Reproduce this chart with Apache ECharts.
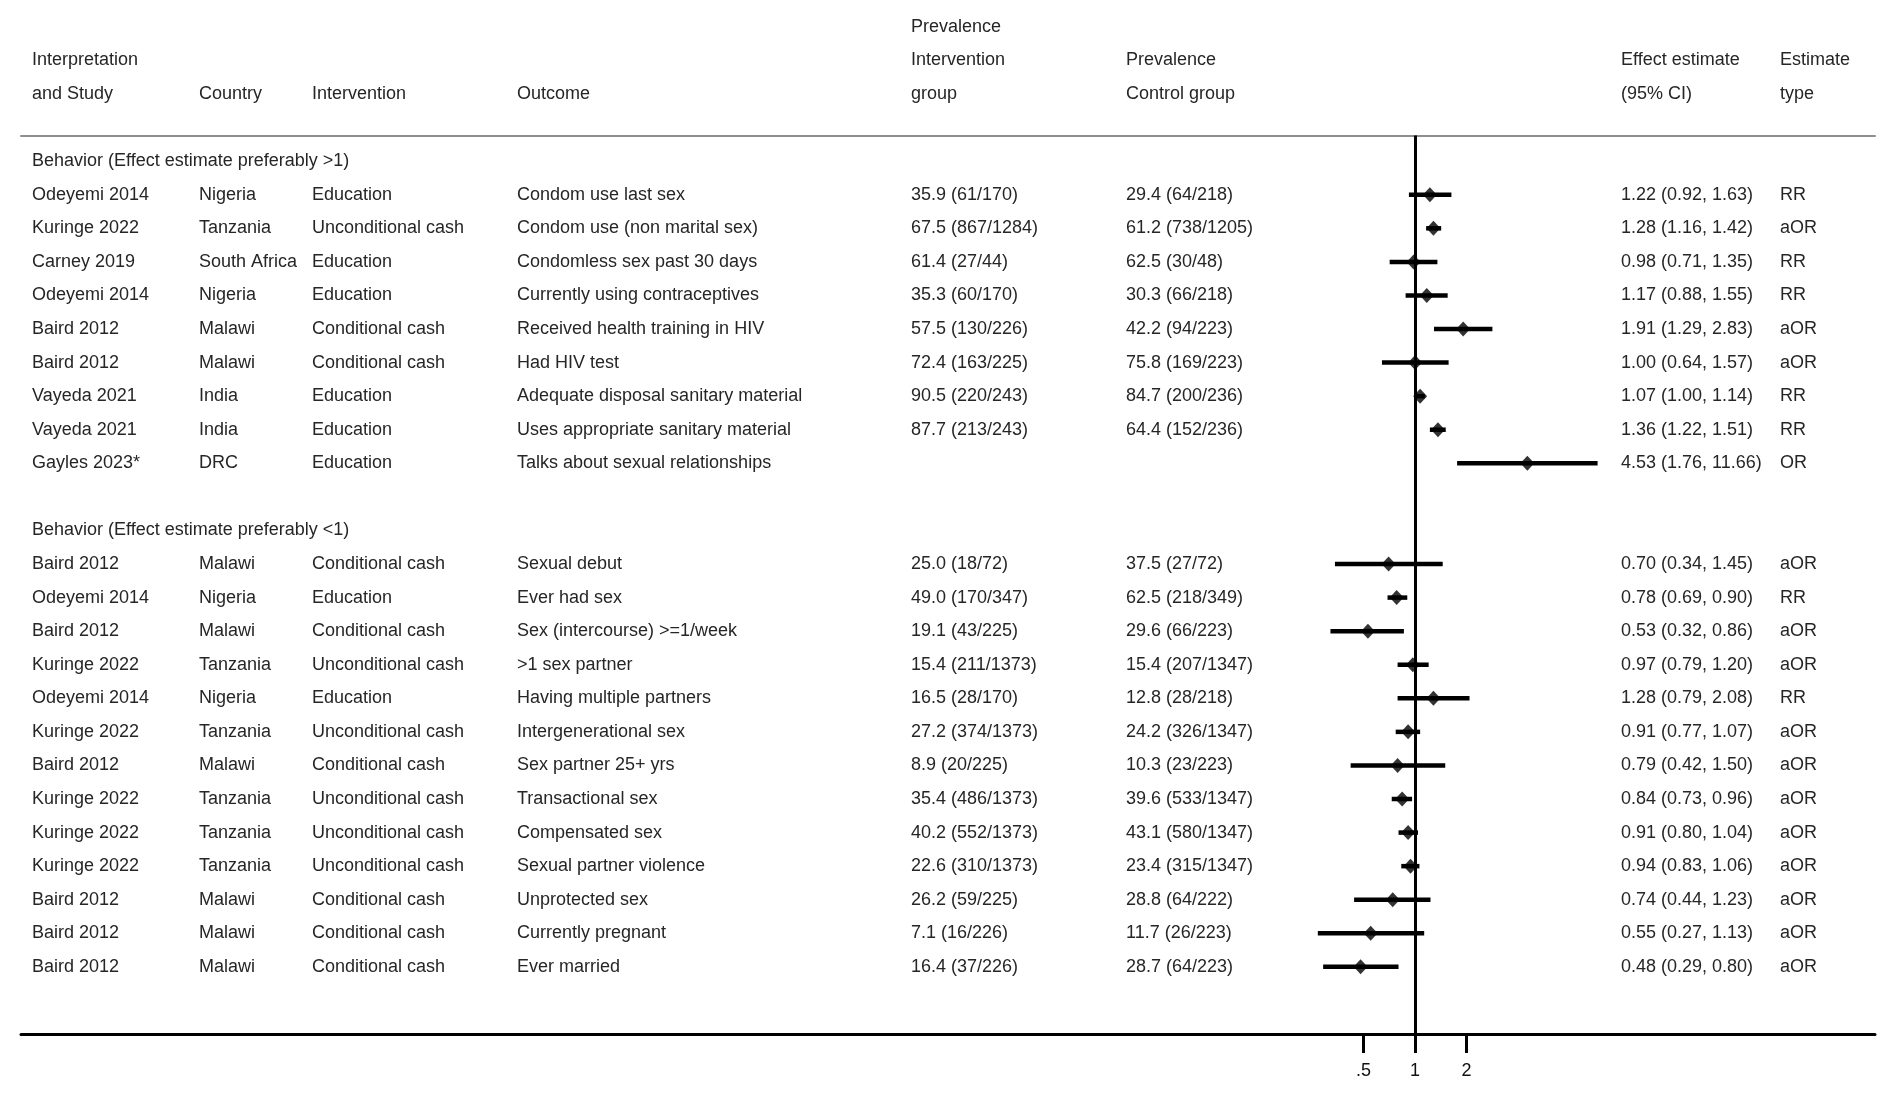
<!DOCTYPE html>
<html>
<head>
<meta charset="utf-8">
<script src="https://cdn.jsdelivr.net/npm/echarts@6/dist/echarts.min.js"></script>
<style>
  html, body { margin: 0; padding: 0; background: #fff; }
  #main { width: 1902px; height: 1105px; }
</style>
</head>
<body>
<div id="main"></div>
<script>
// table rows (row position = line on the forest grid, 0 = first section header)
var rowPos = [1, 2, 3, 4, 5, 6, 7, 8, 9,
              12, 13, 14, 15, 16, 17, 18, 19, 20, 21, 22, 23, 24];
var studies = ['Odeyemi 2014', 'Kuringe 2022', 'Carney 2019', 'Odeyemi 2014', 'Baird 2012', 'Baird 2012',
  'Vayeda 2021', 'Vayeda 2021', 'Gayles 2023*',
  'Baird 2012', 'Odeyemi 2014', 'Baird 2012', 'Kuringe 2022', 'Odeyemi 2014', 'Kuringe 2022', 'Baird 2012',
  'Kuringe 2022', 'Kuringe 2022', 'Kuringe 2022', 'Baird 2012', 'Baird 2012', 'Baird 2012'];
var countries = ['Nigeria', 'Tanzania', 'South Africa', 'Nigeria', 'Malawi', 'Malawi', 'India', 'India', 'DRC',
  'Malawi', 'Nigeria', 'Malawi', 'Tanzania', 'Nigeria', 'Tanzania', 'Malawi', 'Tanzania', 'Tanzania',
  'Tanzania', 'Malawi', 'Malawi', 'Malawi'];
var interventions = ['Education', 'Unconditional cash', 'Education', 'Education', 'Conditional cash',
  'Conditional cash', 'Education', 'Education', 'Education',
  'Conditional cash', 'Education', 'Conditional cash', 'Unconditional cash', 'Education', 'Unconditional cash',
  'Conditional cash', 'Unconditional cash', 'Unconditional cash', 'Unconditional cash', 'Conditional cash',
  'Conditional cash', 'Conditional cash'];
var outcomes = ['Condom use last sex', 'Condom use (non marital sex)', 'Condomless sex past 30 days',
  'Currently using contraceptives', 'Received health training in HIV', 'Had HIV test',
  'Adequate disposal sanitary material', 'Uses appropriate sanitary material', 'Talks about sexual relationships',
  'Sexual debut', 'Ever had sex', 'Sex (intercourse) >=1/week', '>1 sex partner', 'Having multiple partners',
  'Intergenerational sex', 'Sex partner 25+ yrs', 'Transactional sex', 'Compensated sex',
  'Sexual partner violence', 'Unprotected sex', 'Currently pregnant', 'Ever married'];
var prevInt = ['35.9 (61/170)', '67.5 (867/1284)', '61.4 (27/44)', '35.3 (60/170)', '57.5 (130/226)',
  '72.4 (163/225)', '90.5 (220/243)', '87.7 (213/243)', '',
  '25.0 (18/72)', '49.0 (170/347)', '19.1 (43/225)', '15.4 (211/1373)', '16.5 (28/170)', '27.2 (374/1373)',
  '8.9 (20/225)', '35.4 (486/1373)', '40.2 (552/1373)', '22.6 (310/1373)', '26.2 (59/225)', '7.1 (16/226)',
  '16.4 (37/226)'];
var prevCtl = ['29.4 (64/218)', '61.2 (738/1205)', '62.5 (30/48)', '30.3 (66/218)', '42.2 (94/223)',
  '75.8 (169/223)', '84.7 (200/236)', '64.4 (152/236)', '',
  '37.5 (27/72)', '62.5 (218/349)', '29.6 (66/223)', '15.4 (207/1347)', '12.8 (28/218)', '24.2 (326/1347)',
  '10.3 (23/223)', '39.6 (533/1347)', '43.1 (580/1347)', '23.4 (315/1347)', '28.8 (64/222)', '11.7 (26/223)',
  '28.7 (64/223)'];
var est = [1.22, 1.28, 0.98, 1.17, 1.91, 1.00, 1.07, 1.36, 4.53,
  0.70, 0.78, 0.53, 0.97, 1.28, 0.91, 0.79, 0.84, 0.91, 0.94, 0.74, 0.55, 0.48];
var lo = [0.92, 1.16, 0.71, 0.88, 1.29, 0.64, 1.00, 1.22, 1.76,
  0.34, 0.69, 0.32, 0.79, 0.79, 0.77, 0.42, 0.73, 0.80, 0.83, 0.44, 0.27, 0.29];
var hi = [1.63, 1.42, 1.35, 1.55, 2.83, 1.57, 1.14, 1.51, 11.66,
  1.45, 0.90, 0.86, 1.20, 2.08, 1.07, 1.50, 0.96, 1.04, 1.06, 1.23, 1.13, 0.80];
var estType = ['RR', 'aOR', 'RR', 'RR', 'aOR', 'aOR', 'RR', 'RR', 'OR',
  'aOR', 'RR', 'aOR', 'aOR', 'RR', 'aOR', 'aOR', 'aOR', 'aOR', 'aOR', 'aOR', 'aOR', 'aOR'];

var sectionTitles = ['Behavior (Effect estimate preferably >1)', 'Behavior (Effect estimate preferably <1)'];
var sectionRows = [0, 11];

var headerLines = [
  ['Interpretation', 'and Study'], ['Country'], ['Intervention'], ['Outcome'],
  ['Prevalence', 'Intervention', 'group'], ['Prevalence', 'Control group'],
  ['Effect estimate', '(95% CI)'], ['Estimate', 'type']
];
var tickValues = [0.5, 1, 2];
var tickLabels = ['.5', '1', '2'];

var colX = [32, 199, 312, 517, 911, 1126, 1621, 1780];
var FONT = '18px "Liberation Sans", Arial, sans-serif';
var TXT = '#262626';

var chart = echarts.init(document.getElementById('main'));

var ciData = [], ptData = [];
for (var i = 0; i < est.length; i++) {
  ciData.push([Math.log2(lo[i]), Math.log2(hi[i]), rowPos[i]]);
  ptData.push([Math.log2(est[i]), rowPos[i]]);
}
var tickLog = tickValues.map(function (v) { return Math.log2(v); });

chart.setOption({
  animation: false,
  grid: { left: 21, right: 27, top: 135.5, bottom: 71 },
  xAxis: [{
    type: 'value',
    min: -27.07, max: 8.93,
    position: 'bottom',
    axisLine: { show: true, onZero: false, lineStyle: { color: '#000', width: 3 } },
    axisTick: { show: true, customValues: tickLog, length: 19, lineStyle: { color: '#000', width: 3 } },
    axisLabel: {
      show: true, customValues: tickLog, margin: 28,
      color: '#111', fontSize: 18, fontFamily: '"Liberation Sans", Arial, sans-serif',
      formatter: function (v) {
        for (var k = 0; k < tickLog.length; k++) {
          if (Math.abs(tickLog[k] - v) < 1e-6) return tickLabels[k];
        }
        return '';
      }
    },
    splitLine: { show: false }
  }, {
    type: 'value',
    min: -27.07, max: 8.93,
    position: 'top',
    axisLine: { show: true, onZero: false, lineStyle: { color: '#8e8e8e', width: 2 } },
    axisTick: { show: false },
    axisLabel: { show: false },
    splitLine: { show: false }
  }],
  yAxis: {
    type: 'value', inverse: true, min: -0.765, max: 26,
    show: false, splitLine: { show: false }
  },
  series: [{
    type: 'custom',
    data: ciData,
    renderItem: function (params, api) {
      var a = api.coord([api.value(0), api.value(2)]);
      var b = api.coord([api.value(1), api.value(2)]);
      return {
        type: 'line',
        shape: { x1: a[0], y1: a[1], x2: b[0], y2: b[1] },
        style: { stroke: '#000', lineWidth: 4.5 }
      };
    },
    z: 3
  }, {
    type: 'scatter',
    data: ptData,
    symbol: 'diamond',
    symbolSize: [14, 15],
    itemStyle: { color: '#000' },
    z: 4,
    markLine: {
      silent: true,
      symbol: 'none',
      label: { show: false },
      lineStyle: { color: '#000', width: 3, type: 'solid' },
      data: [{ xAxis: 0 }]
    }
  }]
});

// table text, placed on the same row scale as the forest plot
function rowY(r) { return chart.convertToPixel({ yAxisIndex: 0 }, r); }
function txt(x, r, s) {
  return {
    type: 'text', x: x, y: rowY(r), silent: true,
    style: { text: s, fill: TXT, font: FONT, align: 'left', verticalAlign: 'middle' }
  };
}
var els = [];
headerLines.forEach(function (lines, c) {
  lines.forEach(function (s, k) {
    els.push(txt(colX[c], -2 - (lines.length - 1 - k), s));
  });
});
sectionTitles.forEach(function (s, k) { els.push(txt(colX[0], sectionRows[k], s)); });
var cols = [studies, countries, interventions, outcomes, prevInt, prevCtl, null, estType];
for (var j = 0; j < rowPos.length; j++) {
  for (var c = 0; c < cols.length; c++) {
    var s = c === 6
      ? est[j].toFixed(2) + ' (' + lo[j].toFixed(2) + ', ' + hi[j].toFixed(2) + ')'
      : cols[c][j];
    if (s) els.push(txt(colX[c], rowPos[j], s));
  }
}
chart.setOption({ graphic: { elements: els } });
</script>
</body>
</html>
